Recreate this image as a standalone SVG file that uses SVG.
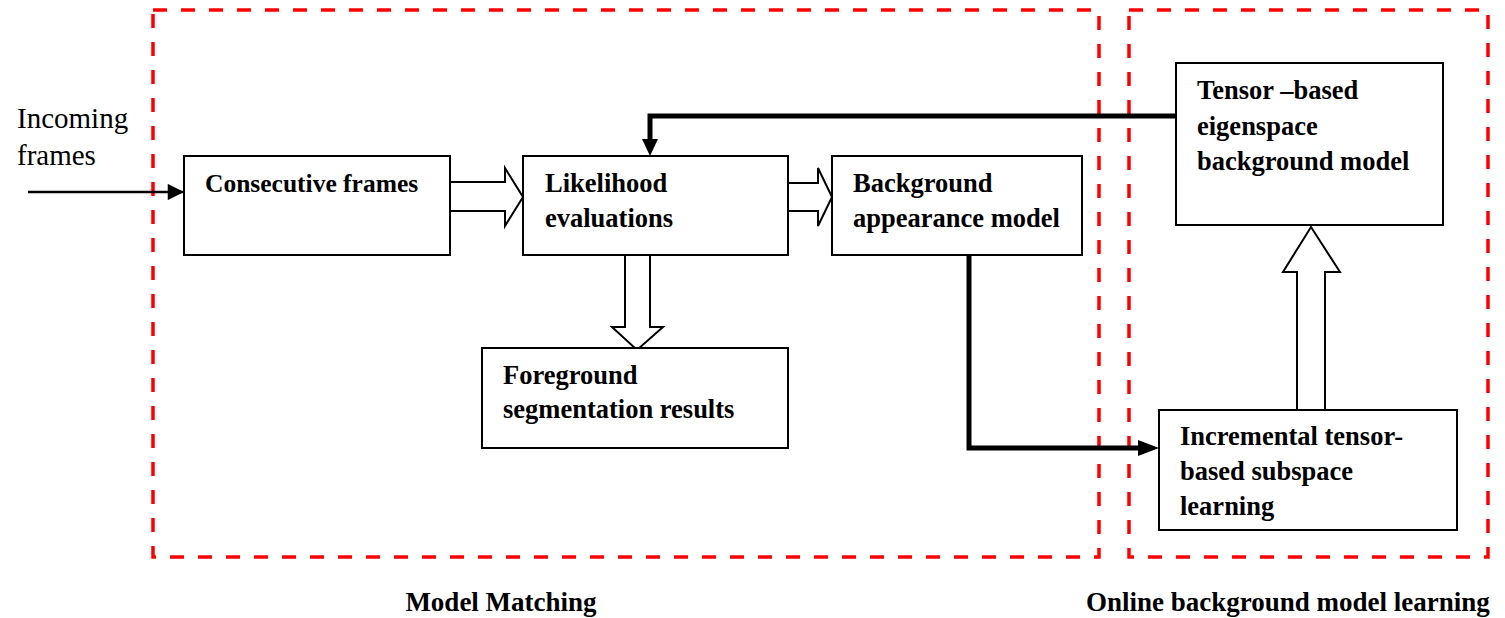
<svg xmlns="http://www.w3.org/2000/svg" width="1505" height="618" viewBox="0 0 1505 618">
<defs>
<style>
.frame{fill:none;stroke:#ff0000;stroke-width:3.5;stroke-dasharray:14,14}
.box{fill:#fff;stroke:#000;stroke-width:2}
.t{font-family:"Liberation Serif","Times New Roman",serif;font-weight:bold;font-size:26.5px;fill:#000}
.lbl{font-family:"Liberation Serif","Times New Roman",serif;font-weight:bold;font-size:27px;fill:#000}
.reg{font-family:"Liberation Serif","Times New Roman",serif;font-size:29px;fill:#000}
.hollow{fill:#fff;stroke:#000;stroke-width:2;stroke-linejoin:miter}
.thick{fill:none;stroke:#000;stroke-width:5}
</style>
<marker id="ahs" viewBox="0 0 10 10" refX="10" refY="5" markerWidth="8" markerHeight="6.5" orient="auto" markerUnits="strokeWidth">
<path d="M0,0 L10,5 L0,10 z" fill="#000"/>
</marker>
</defs>
<rect width="1505" height="618" fill="#fff"/>
<g id="frames">
<rect class="frame" x="153" y="10" width="946" height="547"/>
<rect class="frame" x="1129" y="10" width="359" height="547"/>
</g>
<g id="connectors">
<line x1="28" y1="192" x2="184" y2="192" stroke="#000" stroke-width="2.5" marker-end="url(#ahs)"/>
<path class="hollow" d="M450,182 H505 V168 L523,197 L505,226 V211 H450"/>
<path class="hollow" d="M786,183 H818 V168 L832,197 L818,226 V211 H786 Z"/>
<path class="hollow" d="M625,256 V327 H612 L637,350 L663,327 H650 V256"/>
<path class="hollow" d="M1297,410 V272 H1283 L1311,227 L1340,272 H1325 V410"/>
<polyline class="thick" points="1176,116 650,116 650,143"/>
<path d="M642,139 L658,139 L650,156 Z" fill="#000"/>
<polyline class="thick" points="969,256 969,448 1140,448"/>
<path d="M1138,440 L1159,448 L1138,456 Z" fill="#000"/>
</g>
<g id="incoming">
<text class="reg" x="17" y="128">Incoming</text>
<text class="reg" x="17" y="165">frames</text>
</g>
<g id="consecutive">
<rect class="box" x="184" y="156" width="266" height="99"/>
<text class="t" x="205" y="192" style="font-size:25.5px">Consecutive frames</text>
</g>
<g id="likelihood">
<rect class="box" x="523" y="156" width="265" height="99"/>
<text class="t" x="545" y="192">Likelihood</text>
<text class="t" x="545" y="227">evaluations</text>
</g>
<g id="background">
<rect class="box" x="832" y="156" width="250" height="99"/>
<text class="t" x="853" y="192">Background</text>
<text class="t" x="853" y="227">appearance model</text>
</g>
<g id="foreground">
<rect class="box" x="482" y="348" width="306" height="100"/>
<text class="t" x="503" y="384">Foreground</text>
<text class="t" x="503" y="418">segmentation results</text>
</g>
<g id="tensor">
<rect class="box" x="1176" y="63" width="267" height="162"/>
<text class="t" x="1197" y="99">Tensor –based</text>
<text class="t" x="1197" y="135">eigenspace</text>
<text class="t" x="1197" y="170">background model</text>
</g>
<g id="incremental">
<rect class="box" x="1159" y="410" width="298" height="120"/>
<text class="t" x="1180" y="445">Incremental tensor-</text>
<text class="t" x="1180" y="480">based subspace</text>
<text class="t" x="1180" y="515">learning</text>
</g>
<g id="labels">
<text class="lbl" x="501" y="611" text-anchor="middle">Model Matching</text>
<text class="lbl" x="1086" y="611">Online background model learning</text>
</g>
</svg>
